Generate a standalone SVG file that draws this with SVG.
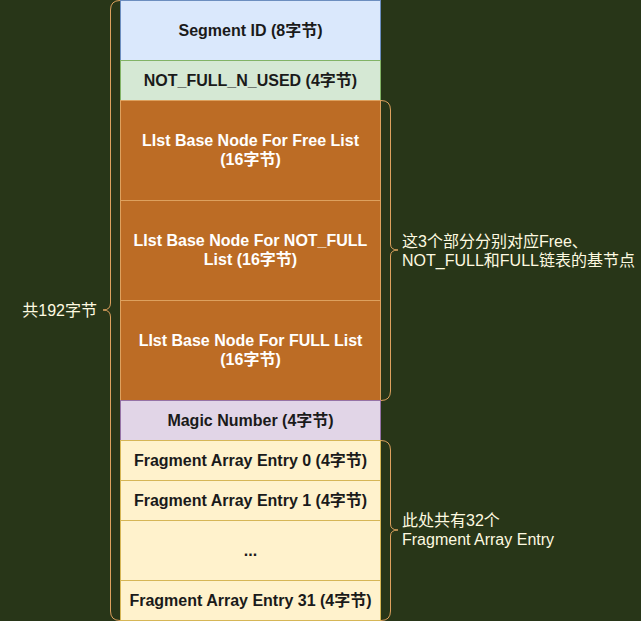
<svg xmlns="http://www.w3.org/2000/svg" width="641" height="621" viewBox="0 0 641 621">
<style>
.lbl{font-family:"Liberation Sans","Noto Sans CJK SC",Arial,sans-serif;font-size:16px;font-weight:bold;text-anchor:middle;fill:#1a1a1a}
.w{fill:#ffffff}
.note{font-family:"Liberation Sans","Noto Sans CJK SC",Arial,sans-serif;font-size:16px;fill:#fefae0}
.brace{fill:none;stroke:#dda15e;stroke-width:1}
</style>
<rect x="0" y="0" width="641" height="621" fill="#283618"/>
<g id="segment-id"><rect x="120.5" y="0.5" width="260" height="60" fill="#dae8fc" stroke="#6c8ebf"/><text class="lbl" x="250.5" y="36">Segment ID (8字节)</text></g>
<g id="not-full-n-used"><rect x="120.5" y="60.5" width="260" height="40" fill="#d5e8d4" stroke="#82b366"/><text class="lbl" x="250.5" y="86">NOT_FULL_N_USED (4字节)</text></g>
<g id="free-list"><rect x="120.5" y="100.5" width="260" height="100" fill="#bc6c25" stroke="#dda15e"/><text class="lbl w" x="250.5" y="146">LIst Base Node For Free List</text><text class="lbl w" x="250.5" y="165">(16字节)</text></g>
<g id="not-full-list"><rect x="120.5" y="200.5" width="260" height="100" fill="#bc6c25" stroke="#dda15e"/><text class="lbl w" x="250.5" y="246">LIst Base Node For NOT_FULL</text><text class="lbl w" x="250.5" y="265">List (16字节)</text></g>
<g id="full-list"><rect x="120.5" y="300.5" width="260" height="100" fill="#bc6c25" stroke="#dda15e"/><text class="lbl w" x="250.5" y="346">LIst Base Node For FULL List</text><text class="lbl w" x="250.5" y="365">(16字节)</text></g>
<g id="magic-number"><rect x="120.5" y="400.5" width="260" height="40" fill="#e1d5e7" stroke="#9673a6"/><text class="lbl" x="250.5" y="426">Magic Number (4字节)</text></g>
<g id="entry-0"><rect x="120.5" y="440.5" width="260" height="40" fill="#fff2cc" stroke="#d6b656"/><text class="lbl" x="250.5" y="466">Fragment Array Entry 0 (4字节)</text></g>
<g id="entry-1"><rect x="120.5" y="480.5" width="260" height="40" fill="#fff2cc" stroke="#d6b656"/><text class="lbl" x="250.5" y="506">Fragment Array Entry 1 (4字节)</text></g>
<g id="entry-dots"><rect x="120.5" y="520.5" width="260" height="60" fill="#fff2cc" stroke="#d6b656"/><text class="lbl" x="250.5" y="556">...</text></g>
<g id="entry-31"><rect x="120.5" y="580.5" width="260" height="40" fill="#fff2cc" stroke="#d6b656"/><text class="lbl" x="250.5" y="606">Fragment Array Entry 31 (4字节)</text></g>
<g id="connectors">
<path class="brace" d="M120,0.5 Q110.5,0.5 110.5,10 L110.5,303 Q110.5,310 103,310 Q110.5,310 110.5,317 L110.5,611 Q110.5,620.5 120,620.5"/>
<path class="brace" d="M381,100.5 Q390.5,100.5 390.5,110 L390.5,244 Q390.5,250 398,250 Q390.5,250 390.5,256 L390.5,391 Q390.5,400.5 381,400.5"/>
<path class="brace" d="M381,440.5 Q390.5,440.5 390.5,450 L390.5,524 Q390.5,530 398,530 Q390.5,530 390.5,536 L390.5,611 Q390.5,620.5 381,620.5"/>
</g>
<g id="label-total"><text class="note" x="97" y="316" text-anchor="end">共192字节</text></g>
<g id="label-lists"><text class="note" x="402" y="247">这3个部分分别对应Free、</text><text class="note" x="402" y="266">NOT_FULL和FULL链表的基节点</text></g>
<g id="label-entries"><text class="note" x="402" y="526">此处共有32个</text><text class="note" x="402" y="545">Fragment Array Entry</text></g>
</svg>
